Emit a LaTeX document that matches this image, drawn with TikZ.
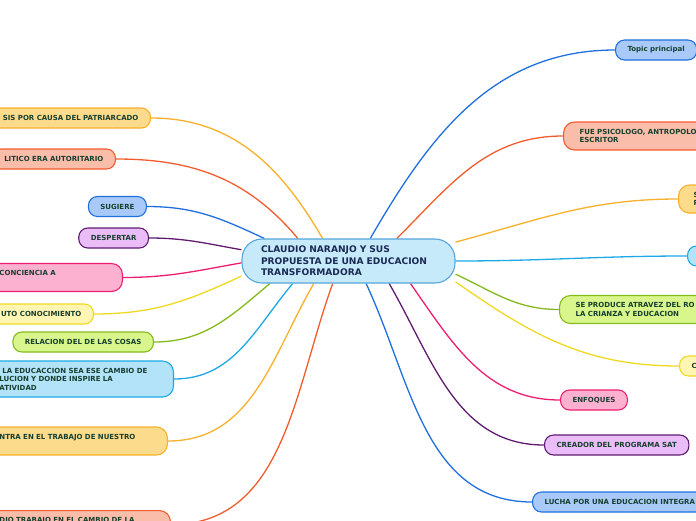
\documentclass[tikz,border=0pt]{standalone}
\usepackage{fontspec}
\setmainfont{DejaVu Sans}
\usetikzlibrary{backgrounds}
\usepackage{xcolor}

\definecolor{inkgreen}{HTML}{173F2F}
\definecolor{inknavy}{HTML}{1A2A55}
\definecolor{centrefill}{HTML}{C6EAFA}
\definecolor{centreline}{HTML}{55A6DA}
\definecolor{bluefill}{HTML}{A9CAF9}
\definecolor{blueline}{HTML}{1F6FDE}
\definecolor{salmonfill}{HTML}{F9BDA9}
\definecolor{salmonline}{HTML}{F25C2C}
\definecolor{orangefill}{HTML}{FDDB8D}
\definecolor{orangeline}{HTML}{F8B02B}
\definecolor{lilacfill}{HTML}{EBBDF8}
\definecolor{lilacline}{HTML}{5F1B70}
\definecolor{pinkfill}{HTML}{FDB1D1}
\definecolor{pinkline}{HTML}{EE1E6F}
\definecolor{lemonfill}{HTML}{FFF6B3}
\definecolor{lemonline}{HTML}{EFD920}
\definecolor{limefill}{HTML}{D8F68B}
\definecolor{limeline}{HTML}{86B91B}
\definecolor{cyanfill}{HTML}{B3E3F9}
\definecolor{cyanline}{HTML}{1DA9E6}

\tikzstyle{central} = [rectangle, rounded corners=20pt, draw=centreline, fill=centrefill, line width=1.1pt, text width=175pt, inner xsep=19pt, minimum height=44pt, align=left, text=inknavy, font=\fontsize{9.1}{11.5}\selectfont\bfseries]
\tikzstyle{branch} = [rectangle, rounded corners=9pt, line width=1.1pt, inner xsep=12pt, inner ysep=3pt, minimum height=20pt, align=left, text=inkgreen, font=\fontsize{7}{8.5}\selectfont\bfseries]
\tikzstyle{twoline} = [rounded corners=11pt, inner xsep=16pt, minimum height=28pt]
\tikzstyle{bluebox} = [branch, draw=blueline, fill=bluefill]
\tikzstyle{salmonbox} = [branch, draw=salmonline, fill=salmonfill]
\tikzstyle{orangebox} = [branch, draw=orangeline, fill=orangefill]
\tikzstyle{lilacbox} = [branch, draw=lilacline, fill=lilacfill]
\tikzstyle{pinkbox} = [branch, draw=pinkline, fill=pinkfill]
\tikzstyle{lemonbox} = [branch, draw=lemonline, fill=lemonfill]
\tikzstyle{limebox} = [branch, draw=limeline, fill=limefill]
\tikzstyle{cyanbox} = [branch, draw=cyanline, fill=cyanfill]
\tikzstyle{link} = [line width=1.3pt]

\begin{document}
\begin{tikzpicture}[x=1pt, y=1pt]

    \useasboundingbox (0,0) rectangle (696,-520);
    \clip (0,0) rectangle (696,-520);

    \node (topic) [central] at (348.5,-261) {CLAUDIO NARANJO Y SUS\\PROPUESTA DE UNA EDUCACION\\TRANSFORMADORA};

    % right side
    \node (principal) [bluebox, anchor=west] at (615,-50) {Topic principal};
    \node (psicologo) [salmonbox, twoline, anchor=west] at (563,-136) {FUE PSICOLOGO, ANTROPOLO\\ESCRITOR};
    \node (orangeR) [orangebox, twoline, inner xsep=15pt, anchor=west] at (678,-199) {S\\P};
    \node (cyanR) [cyanbox, anchor=west, minimum width=30pt] at (687,-256) {};
    \node (produce) [limebox, twoline, anchor=west] at (559,-309.5) {SE PRODUCE ATRAVEZ DEL RO\\LA CRIANZA Y EDUCACION};
    \node (lemonR) [lemonbox, anchor=west] at (679,-366) {C};
    \node (enfoques) [pinkbox, anchor=west] at (560,-400) {ENFOQUES};
    \node (creador) [lilacbox, anchor=west] at (544,-445) {CREADOR DEL PROGRAMA SAT};
    \node (lucha) [bluebox, anchor=west] at (532,-502) {LUCHA POR UNA EDUCACION INTEGRA};

    % left side
    \node (patriarcado) [orangebox, anchor=east] at (151,-118) {SIS POR CAUSA DEL PATRIARCADO};
    \node (autoritario) [salmonbox, anchor=east] at (116,-159) {LITICO ERA AUTORITARIO};
    \node (sugiere) [bluebox, anchor=east] at (147,-206.5) {SUGIERE};
    \node (despertar) [lilacbox, anchor=east] at (149,-238) {DESPERTAR};
    \node (conciencia) [pinkbox, twoline, anchor=east, text width=107pt] at (123,-277.5) {CONCIENCIA A\\\mbox{}};
    \node (conocimiento) [lemonbox, anchor=east] at (94,-314) {UTO CONOCIMIENTO};
    \node (relacion) [limebox, anchor=east] at (154,-342) {RELACION DEL DE LAS COSAS};
    \node (creatividad) [cyanbox, twoline, anchor=east, text width=158pt, minimum height=36pt] at (174,-379) {\kern3pt LA EDUCACCION SEA ESE CAMBIO DE\\LUCION Y DONDE INSPIRE LA\\ATIVIDAD};
    \node (nuestro) [orangebox, twoline, anchor=east, text width=152pt] at (168,-441) {NTRA EN EL TRABAJO DE NUESTRO\\\mbox{}};
    \node (cambio) [salmonbox, twoline, anchor=north east, text width=155pt] at (171,-510) {DIO TRABAJO EN EL CAMBIO DE LA\\\mbox{}};

    \begin{scope}[on background layer]
    \draw [link, blueline] (topic.46) to [out=60, in=180] (principal.west);
    \draw [link, salmonline] (topic.25) to [out=45, in=180] (psicologo.west);
    \draw [link, orangeline] (topic.10) to [out=15, in=180] (orangeR.west);
    \draw [link, cyanline] (topic.0) to [out=0, in=180] (cyanR.west);
    \draw [link, limeline] (topic.-7) to [out=-25, in=180] (produce.west);
    \draw [link, lemonline] (topic.-11) to [out=-35, in=180] (lemonR.west);
    \draw [link, pinkline] (topic.-20) to [out=-55, in=180] (enfoques.west);
    \draw [link, lilacline] (topic.-29) to [out=-60, in=180] (creador.west);
    \draw [link, blueline] (topic.-52) to [out=-65, in=180] (lucha.west);

    \draw [link, orangeline] (topic.139) to [out=120, in=0] (patriarcado.east);
    \draw [link, salmonline] (topic.156) to [out=130, in=0] (autoritario.east);
    \draw [link, blueline] (topic.165) to [out=155, in=0] (sugiere.east);
    \draw [link, lilacline] (topic.174) to [out=170, in=0] (despertar.east);
    \draw [link, pinkline] (topic.181) to [out=190, in=0] (conciencia.east);
    \draw [link, lemonline] (topic.188) to [out=205, in=0] (conocimiento.east);
    \draw [link, limeline] (topic.196) to [out=220, in=0] (relacion.east);
    \draw [link, cyanline] (topic.202) to [out=230, in=0] (creatividad.east);
    \draw [link, orangeline] (topic.213) to [out=240, in=0] (nuestro.east);
    \draw [link, salmonline] (topic.235) to [out=250, in=0] (cambio.east);
    \end{scope}
\end{tikzpicture}
\end{document}
